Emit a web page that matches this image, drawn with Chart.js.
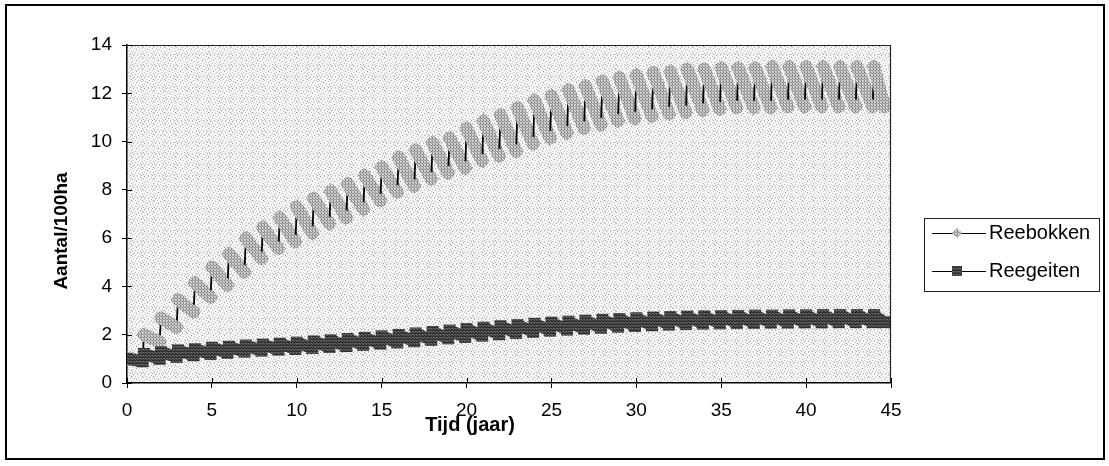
<!DOCTYPE html>
<html>
<head>
<meta charset="utf-8">
<script src="https://cdn.jsdelivr.net/npm/chart.js@4/dist/chart.umd.min.js"></script>
<style>
  html, body { margin: 0; padding: 0; background: #fff; }
  canvas { display: block; }
</style>
</head>
<body>
<canvas id="chart" width="1109" height="466"></canvas>
<script>
// Year of each annual cycle (the population jumps at the start of every year)
const years = [
  0, 1, 2, 3, 4, 5, 6, 7, 8, 9,
  10, 11, 12, 13, 14, 15, 16, 17, 18, 19,
  20, 21, 22, 23, 24, 25, 26, 27, 28, 29,
  30, 31, 32, 33, 34, 35, 36, 37, 38, 39,
  40, 41, 42, 43, 44
];

// Reebokken per 100 ha: value at the start and at the end of each year
const reebokkenStart = [
  1.0, 2.0, 2.7, 3.45, 4.15, 4.8, 5.35, 6.0, 6.45, 6.85,
  7.3, 7.65, 7.95, 8.25, 8.6, 8.95, 9.35, 9.65, 9.95, 10.15,
  10.55, 10.85, 11.1, 11.4, 11.7, 11.9, 12.15, 12.3, 12.5, 12.65,
  12.75, 12.85, 12.9, 13.0, 13.0, 13.05, 13.05, 13.05, 13.1, 13.1,
  13.1, 13.1, 13.1, 13.1, 13.1
];
const reebokkenEnd = [
  0.95, 1.7, 2.3, 2.95, 3.55, 4.05, 4.6, 5.15, 5.57, 5.85,
  6.2, 6.6, 6.85, 7.2, 7.55, 7.9, 8.15, 8.45, 8.7, 8.9,
  9.2, 9.4, 9.6, 9.9, 10.15, 10.35, 10.55, 10.7, 10.85, 10.95,
  11.05, 11.15, 11.2, 11.3, 11.35, 11.4, 11.4, 11.4, 11.45, 11.45,
  11.45, 11.45, 11.45, 11.45, 11.45
];

// Reegeiten per 100 ha: value at the start and at the end of each year
const reegeitenStart = [
  1.0, 1.2, 1.28, 1.35, 1.4, 1.46, 1.5, 1.55, 1.59, 1.63,
  1.67, 1.72, 1.77, 1.82, 1.87, 1.93, 1.99, 2.05, 2.11, 2.17,
  2.23, 2.29, 2.35, 2.4, 2.45, 2.5, 2.54, 2.58, 2.62, 2.65,
  2.68, 2.71, 2.73, 2.75, 2.76, 2.77, 2.78, 2.79, 2.79, 2.8,
  2.8, 2.81, 2.81, 2.81, 2.81
];
const reegeitenEnd = [
  0.9, 1.0, 1.08, 1.15, 1.2, 1.25, 1.3, 1.34, 1.38, 1.41,
  1.45, 1.49, 1.53, 1.58, 1.63, 1.68, 1.73, 1.79, 1.85, 1.91,
  1.96, 2.02, 2.07, 2.12, 2.17, 2.21, 2.25, 2.29, 2.33, 2.36,
  2.39, 2.42, 2.44, 2.46, 2.47, 2.48, 2.49, 2.5, 2.5, 2.51,
  2.51, 2.52, 2.52, 2.52, 2.52
];

// Time of the last observation within a year, and the end of the simulation
const lastObservationInYear = 0.92;
const simulationEnd = 44.6;

// Axis ticks and texts
const xTickValues = [0, 5, 10, 15, 20, 25, 30, 35, 40, 45];
const yTickValues = [0, 2, 4, 6, 8, 10, 12, 14];
const seriesNames = ['Reebokken', 'Reegeiten'];
const xTitle = 'Tijd (jaar)';
const yTitle = 'Aantal/100ha';

function cyclePoints(startVals, endVals) {
  const pts = [];
  years.forEach((yr, i) => {
    pts.push({ x: yr, y: startVals[i] });
    pts.push({ x: Math.min(yr + lastObservationInYear, simulationEnd), y: endVals[i] });
  });
  return pts;
}

// Halftone-like fills built from small tiles
function makePattern(base, cells, w, h) {
  const c = document.createElement('canvas');
  c.width = w; c.height = h;
  const g = c.getContext('2d');
  g.fillStyle = base; g.fillRect(0, 0, w, h);
  cells.forEach(([x, y, col]) => { g.fillStyle = col; g.fillRect(x, y, 1, 1); });
  return g.createPattern(c, 'repeat');
}
const mainCtx = document.getElementById('chart').getContext('2d');
const plotFill = makePattern('#f6f6f6', [
  [1,0,'#9a9a9a'],[5,0,'#c8c8c8'],[8,1,'#b0b0b0'],[3,2,'#c0c0c0'],[10,2,'#8c8c8c'],
  [0,3,'#bcbcbc'],[6,3,'#a4a4a4'],[2,4,'#d0d0d0'],[9,4,'#c4c4c4'],[4,5,'#909090'],
  [7,6,'#bdbdbd'],[1,6,'#c6c6c6'],[10,7,'#a8a8a8'],[3,8,'#b4b4b4'],[6,8,'#d4d4d4'],
  [0,9,'#a0a0a0'],[8,9,'#c2c2c2'],[5,10,'#b6b6b6'],[2,10,'#cacaca'],[9,10,'#9e9e9e']
], 11, 11);
const bokFill = makePattern('#bdbdbd', [[0,0,'#7e7e7e'],[2,1,'#8c8c8c'],[1,2,'#e2e2e2'],[0,2,'#969696'],[2,0,'#d8d8d8'],[1,1,'#a2a2a2']], 3, 3);
const geitFill = makePattern('#424242', [[0,0,'#222222'],[2,1,'#6c6c6c'],[1,2,'#282828'],[0,2,'#626262'],[2,0,'#2e2e2e'],[1,1,'#565656']], 3, 3);
const seriesFills = [bokFill, geitFill];

const isJump = c => c.p0DataIndex % 2 === 1;

const decorations = {
  id: 'decorations',
  beforeDraw(chart) {
    const { ctx, chartArea: a } = chart;
    ctx.save();
    ctx.fillStyle = '#fff';
    ctx.fillRect(0, 0, chart.width, chart.height);
    ctx.fillStyle = plotFill;
    ctx.fillRect(a.left, a.top, a.right - a.left, a.bottom - a.top);
    ctx.restore();
  },
  afterDatasetsDraw(chart) {
    const { ctx, chartArea: a, scales } = chart;
    ctx.save();
    // top and right edges of the plot area
    ctx.strokeStyle = '#222';
    ctx.lineWidth = 1.2;
    ctx.beginPath();
    ctx.moveTo(a.left, a.top + 0.5);
    ctx.lineTo(a.right - 0.5, a.top + 0.5);
    ctx.lineTo(a.right - 0.5, a.bottom);
    ctx.stroke();
    // inner halves of the crossing tick marks
    ctx.strokeStyle = '#000';
    ctx.lineWidth = 1;
    ctx.beginPath();
    xTickValues.forEach(v => {
      const px = Math.round(scales.x.getPixelForValue(v)) + 0.5;
      ctx.moveTo(px, a.bottom); ctx.lineTo(px, a.bottom - 5);
    });
    yTickValues.forEach(v => {
      const py = Math.round(scales.y.getPixelForValue(v)) + 0.5;
      ctx.moveTo(a.left, py); ctx.lineTo(a.left + 5, py);
    });
    ctx.stroke();
    ctx.restore();
  },
  afterDraw(chart) {
    const { ctx } = chart;
    ctx.save();
    // outer frame
    ctx.strokeStyle = '#000';
    ctx.lineWidth = 2;
    ctx.strokeRect(6, 5, 1098, 454);

    // axis titles
    ctx.fillStyle = '#000';
    ctx.textAlign = 'center';
    ctx.textBaseline = 'middle';
    ctx.font = 'bold 20px "Liberation Sans", Arial, sans-serif';
    ctx.fillText(xTitle, 470, 425);
    ctx.save();
    ctx.translate(62, 231);
    ctx.rotate(-Math.PI / 2);
    ctx.font = 'bold 19px "Liberation Sans", Arial, sans-serif';
    ctx.fillText(yTitle, 0, 0);
    ctx.restore();

    // legend
    ctx.lineWidth = 1;
    ctx.strokeStyle = '#222';
    ctx.strokeRect(924.5, 218.5, 175, 73);
    const rows = [233, 271];
    chart.data.datasets.forEach((ds, i) => {
      const y = rows[i];
      ctx.strokeStyle = '#000';
      ctx.lineWidth = 1.2;
      ctx.beginPath();
      ctx.moveTo(932, y + 0.5); ctx.lineTo(986, y + 0.5);
      ctx.stroke();
      ctx.fillStyle = seriesFills[i];
      ctx.beginPath();
      if (ds.pointStyle === 'rectRot') {
        ctx.moveTo(957, y - 5); ctx.lineTo(962, y); ctx.lineTo(957, y + 5); ctx.lineTo(952, y);
      } else {
        ctx.rect(952, y - 5, 10, 10);
      }
      ctx.closePath();
      ctx.fill();
      ctx.fillStyle = '#000';
      ctx.textAlign = 'left';
      ctx.textBaseline = 'middle';
      ctx.font = '20px "Liberation Sans", Arial, sans-serif';
      ctx.fillText(ds.label, 989, y);
    });
    ctx.restore();
  }
};

Chart.defaults.font.family = '"Liberation Sans", Arial, sans-serif';
Chart.defaults.font.size = 19;
Chart.defaults.color = '#000';

function seriesDataset(label, data, fill, style, order, bandWidth, cap, markerRadius) {
  return {
    label, data, order,
    pointStyle: style,
    pointRadius: markerRadius,
    pointBackgroundColor: fill,
    pointBorderWidth: 0,
    borderColor: fill,
    borderWidth: bandWidth,
    tension: 0,
    segment: {
      borderColor: c => isJump(c) ? '#000' : fill,
      borderWidth: c => isJump(c) ? 1.8 : bandWidth,
      borderCapStyle: c => isJump(c) ? 'butt' : cap
    }
  };
}

new Chart(mainCtx, {
  type: 'line',
  data: {
    datasets: [
      seriesDataset(seriesNames[0], cyclePoints(reebokkenStart, reebokkenEnd), bokFill, 'rectRot', 1, 13, 'round', 7.5),
      seriesDataset(seriesNames[1], cyclePoints(reegeitenStart, reegeitenEnd), geitFill, 'rect', 0, 12, 'butt', 8.5)
    ]
  },
  options: {
    responsive: false,
    animation: false,
    events: [],
    layout: { padding: { left: 0, top: 45, right: 218, bottom: 0 } },
    plugins: { legend: { display: false }, tooltip: { enabled: false } },
    scales: {
      x: {
        type: 'linear', min: 0, max: 45,
        afterBuildTicks: s => { s.ticks = xTickValues.map(value => ({ value })); },
        afterFit: s => { s.height = 83; },
        grid: { drawOnChartArea: false, color: '#000', tickLength: 5, lineWidth: 1 },
        border: { color: '#000', width: 1.5 },
        ticks: { padding: 11, maxRotation: 0, autoSkip: false }
      },
      y: {
        type: 'linear', min: 0, max: 14,
        afterBuildTicks: s => { s.ticks = yTickValues.map(value => ({ value })); },
        afterFit: s => { s.width = 127; },
        grid: { drawOnChartArea: false, color: '#000', tickLength: 5, lineWidth: 1 },
        border: { color: '#000', width: 1.5 },
        ticks: { padding: 10, autoSkip: false }
      }
    }
  },
  plugins: [decorations]
});
</script>
</body>
</html>
